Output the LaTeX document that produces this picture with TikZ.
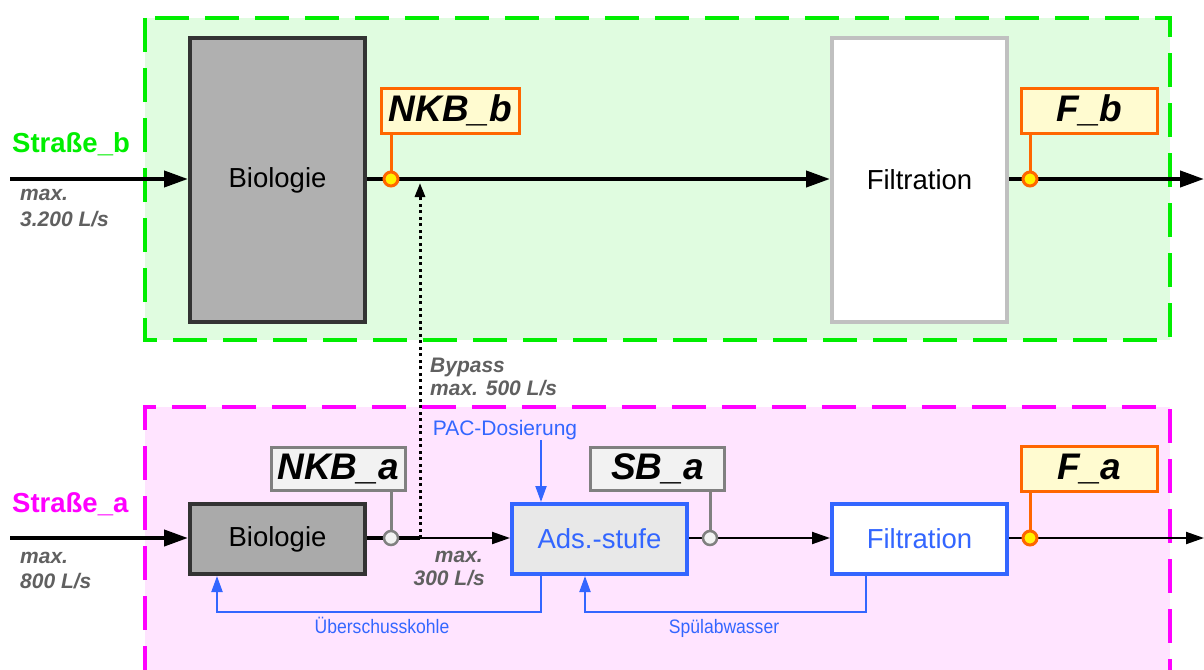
\documentclass[tikz,border=0pt]{standalone}
\usepackage{fontspec}
\setmainfont{Liberation Sans}
\usetikzlibrary{arrows.meta,calc}
\definecolor{lgreen}{HTML}{E0FCE0}
\definecolor{lmag}{HTML}{FFE4FF}
\definecolor{sgreen}{HTML}{00EE00}
\definecolor{smag}{HTML}{FF00FF}
\definecolor{dgray}{HTML}{333333}
\definecolor{bgray}{HTML}{B0B0B0}
\definecolor{bgrayA}{HTML}{AAAAAA}
\definecolor{lgray}{HTML}{C0C0C0}
\definecolor{txtgray}{HTML}{606060}
\definecolor{orng}{HTML}{FF6600}
\definecolor{lyel}{HTML}{FFFBD0}
\definecolor{bblue}{HTML}{3366FF}
\definecolor{ladsfill}{HTML}{E8E8E8}
\definecolor{tagfill}{HTML}{F2F2F2}
\definecolor{tagborder}{HTML}{808080}
\tikzset{
  region/.style={line width=4, dash pattern=on 34 off 16},
  procbox/.style={draw, line width=4, minimum width=175, inner sep=0, font=\fontsize{27.5}{32}\selectfont},
  tagorange/.style={draw=orng, fill=lyel, line width=3, minimum width=136, minimum height=45, inner sep=0, font=\fontsize{37}{42}\selectfont\bfseries\itshape},
  taggray/.style={draw=tagborder, fill=tagfill, line width=3, minimum width=134, minimum height=43, inner sep=0, font=\fontsize{37}{42}\selectfont\bfseries\itshape},
  sensorO/.style={circle, draw=orng, fill=yellow, line width=3, minimum size=14, inner sep=0},
  sensorG/.style={circle, draw=tagborder, fill=tagfill, line width=2.5, minimum size=14, inner sep=0},
  thickflow/.style={line width=4, -{Triangle[length=24, width=16]}},
  thinflow/.style={line width=2, -{Triangle[length=18, width=12]}},
  blueflow/.style={draw=bblue, line width=2, -{Triangle[length=16, width=11]}, bblue},
  flowtxt/.style={text=txtgray, font=\fontsize{21}{26}\selectfont\bfseries\itshape, inner sep=0},
  streettxt/.style={font=\fontsize{27.5}{32}\selectfont\bfseries, inner sep=0, anchor=base west},
  bluetxt/.style={text=bblue, font=\fontsize{21}{24}\selectfont, inner sep=0, anchor=base},
  bluesmall/.style={text=bblue, font=\fontsize{19.5}{22}\selectfont, inner sep=0, anchor=base},
}
\begin{document}
\begin{tikzpicture}[x=1pt,y=-1pt]
\useasboundingbox (0,0) rectangle (1204,669);
% regions
\fill[white] (0,0) rectangle (1204,669);
\fill[lgreen] (145,18) rectangle (1170,340);
\draw[region, sgreen] (145,18) rectangle (1170,340);
\fill[lmag] (145,407) rectangle (1170,680);
\draw[region, smag] (145,680) -- (145,407) -- (1170,407) -- (1170,680);
% street labels
\node[streettxt, text=sgreen] (strb) at (12,152) {Straße\_b};
\node[streettxt, text=smag] (stra) at (12,512) {Straße\_a};
\node[flowtxt, anchor=base west] (qb1) at (20,200) {max.};
\node[flowtxt, anchor=base west] (qb2) at (20,226) {3.200 L/s};
\node[flowtxt, anchor=base west] (qa1) at (20,563) {max.};
\node[flowtxt, anchor=base west] (qa2) at (20,588) {800 L/s};
% top process boxes
\node[procbox, draw=dgray, fill=bgray, minimum height=284] (bioB) at (277.5,180) {Biologie};
\node[procbox, draw=lgray, fill=white, minimum height=284] (filB) at (919.5,180) {Filtration};
% bottom process boxes
\node[procbox, draw=dgray, fill=bgrayA, minimum height=70] (bioA) at (277.5,539) {Biologie};
\node[procbox, draw=bblue, fill=ladsfill, text=bblue, minimum height=70] (ads) at (599.5,539) {Ads.-stufe};
\node[procbox, draw=bblue, fill=white, text=bblue, minimum height=70] (filA) at (919.5,539) {Filtration};
% top flow
\coordinate (inB) at (10,179);
\coordinate (outB) at (1204,179);
\draw[thickflow] (inB) -- (inB -| bioB.west);
\draw[thickflow] (bioB.east |- inB) -- (filB.west |- inB);
\draw[thickflow] (filB.east |- inB) -- (outB);
% bottom flow
\coordinate (inA) at (10,538);
\coordinate (bp) at (420,538);
\coordinate (bpTop) at (420,183);
\coordinate (outA) at (1204,538);
\draw[thickflow] (inA) -- (inA -| bioA.west);
\draw[line width=4] (bioA.east |- inA) -- (bp);
\draw[thinflow] (bp) -- (ads.west |- bp);
\draw[thinflow] (ads.east |- bp) -- (filA.west |- bp);
\draw[thinflow] (filA.east |- bp) -- (outA);
% bypass
\draw[line width=3, dash pattern=on 3 off 3.5, -{Triangle[length=14, width=10]}] (bp) -- (bpTop);
\node[flowtxt, anchor=base west] (bptxt1) at (430,372) {Bypass};
\node[flowtxt, anchor=base west] (bptxt2) at (430,395) {max. 500 L/s};
\node[flowtxt, anchor=base east] (q300a) at (483,562) {max.};
\node[flowtxt, anchor=base east] (q300b) at (485,585) {300 L/s};
% sensors and tags
\node[sensorO] (sNKBb) at (391,179) {};
\node[tagorange, minimum width=138] (NKBb) at (450.5,110.5) {NKB\_b};
\draw[orng, line width=3] (sNKBb) -- (sNKBb |- NKBb.south);
\node[sensorO] (sFb) at (1030,179) {};
\node[tagorange] (Fb) at (1089.5,110.5) {F\_b};
\draw[orng, line width=3] (sFb) -- (sFb |- Fb.south);
\node[sensorG] (sNKBa) at (391,538) {};
\node[taggray] (NKBa) at (338,469) {NKB\_a};
\draw[tagborder, line width=3] (sNKBa) -- (sNKBa |- NKBa.south);
\node[sensorG] (sSBa) at (710,538) {};
\node[taggray] (SBa) at (657.5,469) {SB\_a};
\draw[tagborder, line width=3] (sSBa) -- (sSBa |- SBa.south);
\node[sensorO] (sFa) at (1030,538) {};
\node[tagorange] (Fa) at (1089.5,469) {F\_a};
\draw[orng, line width=3] (sFa) -- (sFa |- Fa.south);
% PAC dosing
\node[bluetxt] (pac) at (505,435) {PAC-Dosierung};
\coordinate (pacTop) at (541,440);
\draw[blueflow] (pacTop) -- (pacTop |- ads.north);
% recycle lines
\coordinate (rc1) at (541,612);
\coordinate (rc1e) at (217,612);
\draw[blueflow] (rc1 |- ads.south) -- (rc1) -- (rc1e) -- (rc1e |- bioA.south);
\node[bluesmall] (ueb) at (382,633) {\scalebox{0.9}[1]{Überschusskohle}};
\coordinate (rc2) at (866,612);
\coordinate (rc2e) at (585,612);
\draw[blueflow] (rc2 |- filA.south) -- (rc2) -- (rc2e) -- (rc2e |- ads.south);
\node[bluesmall] (spu) at (724,633) {\scalebox{0.9}[1]{Spülabwasser}};
\end{tikzpicture}
\end{document}
